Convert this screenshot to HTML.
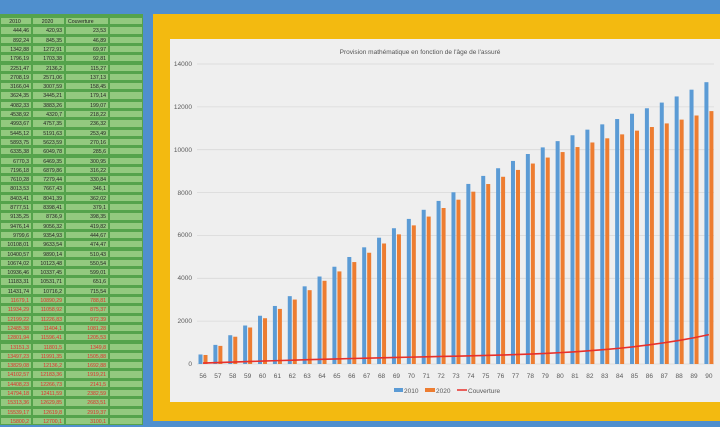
<!DOCTYPE html>
<html><head><meta charset="utf-8"><style>
body{margin:0;width:720px;height:421px;overflow:hidden;background:#4f8fce;font-family:"Liberation Sans",sans-serif}
#tbl{position:absolute;left:0;top:17px;width:143px}
.r{position:absolute;left:0;width:143px;height:9.3px;font-size:5.2px;line-height:9px}
.r div{position:absolute;top:0;height:8.3px;background:#93c97f;border:0.5px solid #55a34c;text-align:right;padding-right:2px;box-sizing:border-box;color:#222}
.c1{left:0;width:32px}.c2{left:32px;width:33px}.c3{left:65px;width:44px}.c4{left:109px;width:34px}
.red div{color:#e0302a}
</style></head><body>
<div style="position:absolute;left:0;top:14px;width:143px;height:407px;background:#55a34c"></div>
<div id="tbl">
<div class="r" style="top:0"><div class="c1" style="text-align:center">2010</div><div class="c2" style="text-align:center">2020</div><div class="c3" style="text-align:left;padding-left:2px">Couverture</div><div class="c4"></div></div>
</div>
<svg width="720" height="421" style="position:absolute;left:0;top:0">
<rect x="153" y="14" width="567" height="407" fill="#f3ba10"/>
<rect x="170" y="39" width="550" height="363" fill="#efefef"/>
<text x="420" y="54" font-size="6.5" fill="#555" text-anchor="middle">Provision mathématique en fonction de l'âge de l'assuré</text>
<g stroke="#d9d9d9" stroke-width="0.8">
<line x1="197" x2="714" y1="364" y2="364"/><line x1="197" x2="714" y1="321.1" y2="321.1"/><line x1="197" x2="714" y1="278.3" y2="278.3"/><line x1="197" x2="714" y1="235.4" y2="235.4"/><line x1="197" x2="714" y1="192.6" y2="192.6"/><line x1="197" x2="714" y1="149.7" y2="149.7"/><line x1="197" x2="714" y1="106.9" y2="106.9"/><line x1="197" x2="714" y1="64" y2="64"/>
</g>
<g font-size="6.5" fill="#595959" text-anchor="end">
<text x="192" y="366">0</text><text x="192" y="323">2000</text><text x="192" y="280">4000</text><text x="192" y="237">6000</text><text x="192" y="195">8000</text><text x="192" y="152">10000</text><text x="192" y="109">12000</text><text x="192" y="66">14000</text>
</g>
<g id="bars" transform="translate(0,364) scale(1,-0.021429)"></g>
<g id="xl" font-size="6.5" fill="#595959" text-anchor="middle"></g>
<rect x="394" y="388" width="9" height="4" fill="#5b9bd5"/><text x="404" y="393" font-size="6.5" fill="#595959">2010</text>
<rect x="425" y="388" width="10" height="4" fill="#ed7d31"/><text x="436" y="393" font-size="6.5" fill="#595959">2020</text>
<line x1="457" x2="467" y1="390" y2="390" stroke="#e8302a" stroke-width="1.5"/><text x="468" y="393" font-size="6.5" fill="#595959">Couverture</text>
</svg>
<script>
var a=[444.46,892.24,1342.88,1796.19,2251.47,2708.19,3166.04,3624.35,4082.33,4538.92,4993.67,5445.12,5893.75,6335.38,6770.3,7196.18,7610.28,8013.53,8403.41,8777.51,9135.25,9476.14,9799.6,10108.01,10400.57,10674.02,10936.46,11183.31,11431.74,11679.1,11934.29,12199.22,12485.38,12801.94,13151.3,13497.23,13829.08,14102.57,14408.23,14794.18,15313.36,15539.17,15800.2];
var b=[420.93,845.35,1272.91,1703.38,2136.2,2571.06,3007.59,3445.21,3883.26,4320.7,4757.35,5191.63,5623.59,6049.78,6469.35,6879.86,7279.44,7667.43,8041.39,8398.41,8736.9,9056.32,9354.93,9633.54,9890.14,10123.48,10337.45,10531.71,10716.2,10890.29,11058.92,11226.83,11404.1,11596.41,11801.5,11991.35,12136.2,12183.36,12266.73,12411.59,12629.85,12619.8,12700.1];
var c=[23.53,46.89,69.97,92.81,115.27,137.13,158.45,179.14,199.07,218.22,236.32,253.49,270.16,285.6,300.95,316.22,330.84,346.1,362.02,379.1,398.35,419.82,444.67,474.47,510.43,550.54,599.01,651.6,715.54,788.81,875.37,972.39,1081.28,1205.53,1349.8,1505.88,1692.88,1919.21,2141.5,2382.59,2683.51,2919.37,3100.1];
function f(v){return String(v).replace('.',',')}
var t=document.getElementById('tbl'),h='';
for(var i=0;i<a.length;i++){h+='<div class="r'+(i>=29?' red':'')+'" style="top:'+(9.3*(i+1))+'px"><div class="c1">'+f(a[i])+'</div><div class="c2">'+f(b[i])+'</div><div class="c3">'+f(c[i])+'</div><div class="c4"></div></div>'}
t.innerHTML+=h;
var g='',x='',p=[];
for(var i=0;i<35;i++){var cx=203+14.88*i;
g+='<rect x="'+(cx-4.5)+'" y="0" width="4" height="'+a[i]+'" fill="#5b9bd5"/><rect x="'+(cx+0.5)+'" y="0" width="4" height="'+b[i]+'" fill="#ed7d31"/>';
x+='<text x="'+cx+'" y="378">'+(56+i)+'</text>';p.push(cx+','+(c[i]+20));}
g+='<polyline points="'+p.join(' ')+'" fill="none" stroke="#e8302a" stroke-width="1.6" vector-effect="non-scaling-stroke"/>';
document.getElementById('bars').innerHTML=g;document.getElementById('xl').innerHTML=x;
</script>
</body></html>
